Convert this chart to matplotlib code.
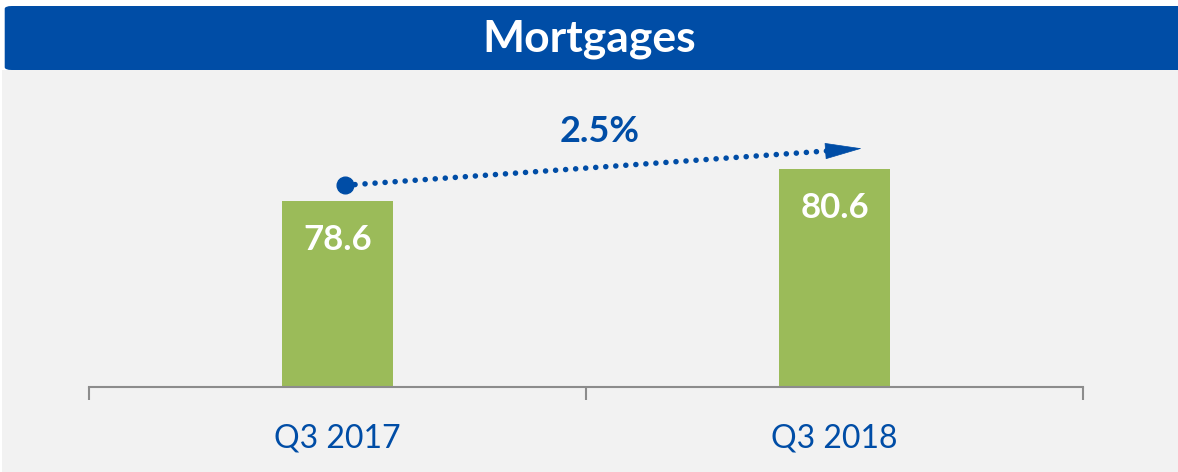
import numpy as np
import matplotlib.pyplot as plt
from matplotlib.patches import FancyBboxPatch, Rectangle

# datos
categorias = ['Q3 2017', 'Q3 2018']
valores = [78.6, 80.6]
crecimiento = '2.5%'
titulo = 'Mortgages'

azul = '#004DA6'
verde = '#9BBB59'
fondo = '#F2F2F2'
gris = '#8C8C8C'

plt.rcParams['font.family'] = ['Lato', 'DejaVu Sans']

fig = plt.figure(figsize=(11.78, 4.72), dpi=100)
fig.patch.set_facecolor('white')

# fondo gris y cabecera azul
fig.patches.append(Rectangle((0.002, 0), 0.998, 1 - 70/472, transform=fig.transFigure,
                             facecolor=fondo, edgecolor='none', zorder=-2))
fig.patches.append(FancyBboxPatch((0.004, 1 - 70/472), 1.02, 64/472, transform=fig.transFigure,
                                  boxstyle='round,pad=0,rounding_size=0.006',
                                  facecolor=azul, edgecolor='none', zorder=-1))
fig.text(0.5, 1 - 39/472, titulo, ha='center', va='center', color='white',
         fontsize=32, fontweight='bold')

ax = fig.add_axes([89/1178, 1 - 387/472, 994/1178, 317/472])
ax.set_facecolor('none')
x = np.arange(len(categorias))
ax.bar(x, valores, width=0.225, color=verde, zorder=2)
ax.set_xlim(-0.5, 1.5)
ax.set_ylim(67.0, 86.8)

for s in ['top', 'right', 'left']:
    ax.spines[s].set_visible(False)
ax.spines['bottom'].set_color(gris)
ax.spines['bottom'].set_linewidth(1.5)
ax.set_yticks([])
ax.set_xticks([-0.5, 0.5, 1.5])
ax.set_xticklabels([])
ax.tick_params(axis='x', which='major', length=9, width=1.5, color=gris, direction='out')
ax.set_xticks(x, minor=True)
ax.set_xticklabels(categorias, minor=True)
ax.tick_params(axis='x', which='minor', length=0, pad=26, labelsize=23, labelcolor=azul)

# etiquetas de valor
for xi, v in zip(x, valores):
    ax.text(xi, v - 2.4, f'{v:.1f}', ha='center', va='center', color='white',
            fontsize=25, fontweight='bold', zorder=3)

# flecha punteada
x0, y0 = 0.015, valores[0] + 1.0
x1, y1 = 1.055, valores[1] + 1.3
xb = x1 - 0.07
yb = y0 + (y1 - y0) * (xb - x0) / (x1 - x0)
ax.plot([x0, xb], [y0, yb], color=azul, lw=4, linestyle=(0, (0.01, 1.8)),
        dash_capstyle='round', zorder=4)
ax.plot([x0], [y0], 'o', color=azul, ms=12, zorder=5)
ax.annotate('', xy=(x1, y1), xytext=(xb, yb),
            arrowprops=dict(arrowstyle='-|>,head_length=2.5,head_width=0.55',
                            mutation_scale=10, color=azul, lw=0.5,
                            shrinkA=0, shrinkB=0), zorder=5)
ax.text(0.528, 82.95, crecimiento, ha='center', va='center', color=azul,
        fontsize=26, fontweight='bold')

plt.savefig('out.png', dpi=100)
